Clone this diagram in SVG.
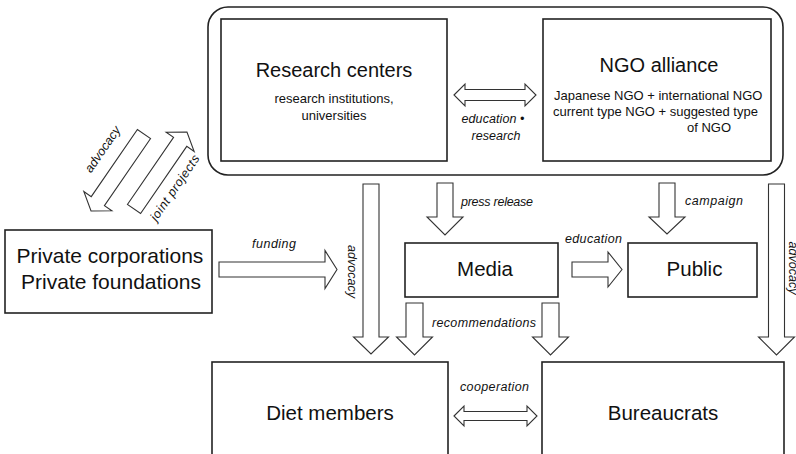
<svg xmlns="http://www.w3.org/2000/svg" width="796" height="454" viewBox="0 0 796 454">
<style>
.box{fill:#fff;stroke:#222;stroke-width:1.6}
.arr{fill:#fff;stroke:#333;stroke-width:1.1;stroke-linejoin:miter}
.t{font-family:"Liberation Sans",Arial,sans-serif;fill:#111;text-anchor:middle}
.big{font-size:20.5px}
.sub{font-size:13px}
.lab{font-family:"Liberation Sans",Arial,sans-serif;font-style:italic;font-size:12.5px;fill:#111}
.mid{text-anchor:middle}
.st{text-anchor:start}
</style>
<defs>
<polygon id="diag" points="0,-8 81.5,-8 81.5,-17 93.5,0 81.5,17 81.5,8 0,8"/>
</defs>
<rect width="796" height="454" fill="#fff"/>

<g id="alliance-frame">
<rect x="208" y="7" width="575" height="168" rx="20" class="box"/>
</g>

<g id="research-centers">
<rect x="221" y="19" width="226" height="142" class="box"/>
<text class="t" x="334" y="77" font-size="20">Research centers</text>
<text class="t sub" x="334" y="103">research institutions,</text>
<text class="t sub" x="334" y="120">universities</text>
</g>

<g id="ngo-alliance">
<rect x="543" y="19" width="228" height="142" class="box"/>
<text class="t" x="659" y="72" font-size="20">NGO alliance</text>
<text class="t sub st" x="554" y="100">Japanese NGO + international NGO</text>
<text class="t sub st" x="553" y="116">current type NGO + suggested type</text>
<text class="t sub st" x="687" y="132">of NGO</text>
</g>

<g id="private">
<rect x="5" y="230" width="207" height="83" class="box"/>
<text class="t" x="110" y="263" font-size="21">Private corporations</text>
<text class="t" x="111" y="289" font-size="21">Private foundations</text>
</g>

<g id="media">
<rect x="405" y="243" width="153" height="54" class="box"/>
<text class="t big" x="485" y="276">Media</text>
</g>

<g id="public">
<rect x="628" y="243" width="129" height="54" class="box"/>
<text class="t big" x="694.5" y="276">Public</text>
</g>

<g id="diet-members">
<rect x="212" y="362" width="236" height="100" class="box"/>
<text class="t big" x="330" y="420">Diet members</text>
</g>

<g id="bureaucrats">
<rect x="542" y="362" width="242" height="100" class="box"/>
<text class="t big" x="663" y="420">Bureaucrats</text>
</g>

<g id="connectors">
<polygon class="arr" points="454,95 465,84 465,89.5 525,89.5 525,84 536,95 525,106 525,100.5 465,100.5 465,106"/>
<text class="lab mid" x="493" y="123" textLength="63">education •</text>
<text class="lab mid" x="496" y="140" textLength="49">research</text>

<use href="#diag" class="arr" transform="translate(144 134) rotate(124.5)"/>
<use href="#diag" class="arr" transform="translate(134 209) rotate(-55.5)"/>
<text class="lab mid" transform="translate(106 151.7) rotate(-55.5)" textLength="53">advocacy</text>
<text class="lab mid" transform="translate(178.3 190.2) rotate(-55.5)" textLength="77">joint projects</text>

<polygon class="arr" points="219,262 325,262 325,250.5 337,269.5 325,288.5 325,277 219,277"/>
<text class="lab" x="252" y="248" textLength="44">funding</text>

<polygon class="arr" points="363,184 379,184 379,337 388.5,337 371,354 353.5,337 363,337"/>
<text class="lab mid" transform="translate(348 271.5) rotate(90)" textLength="53">advocacy</text>

<polygon class="arr" points="437,183 453,183 453,217 463,217 445,235 427,217 437,217"/>
<text class="lab" x="461" y="206" textLength="72">press release</text>

<polygon class="arr" points="659,183 675,183 675,217 685,217 667,234 649,217 659,217"/>
<text class="lab" x="685" y="205" textLength="58">campaign</text>

<polygon class="arr" points="768.5,184 784.5,184 784.5,337 794.5,337 776.5,355 758.5,337 768.5,337"/>
<text class="lab mid" transform="translate(789 268) rotate(90)" textLength="53">advocacy</text>

<polygon class="arr" points="572,262 608,262 608,252 622,269.5 608,287 608,277 572,277"/>
<text class="lab" x="565" y="243" textLength="57">education</text>

<polygon class="arr" points="406,303 423,303 423,337 432.5,337 414.5,355 396.5,337 406,337"/>
<polygon class="arr" points="542,303 559,303 559,337 568.5,337 550.5,355 532.5,337 542,337"/>
<text class="lab" x="432" y="327" textLength="104">recommendations</text>

<polygon class="arr" points="454,416 464,406 464,411.5 527,411.5 527,406 537,416 527,426 527,420.5 464,420.5 464,426"/>
<text class="lab" x="460" y="391" textLength="69">cooperation</text>
</g>
</svg>
